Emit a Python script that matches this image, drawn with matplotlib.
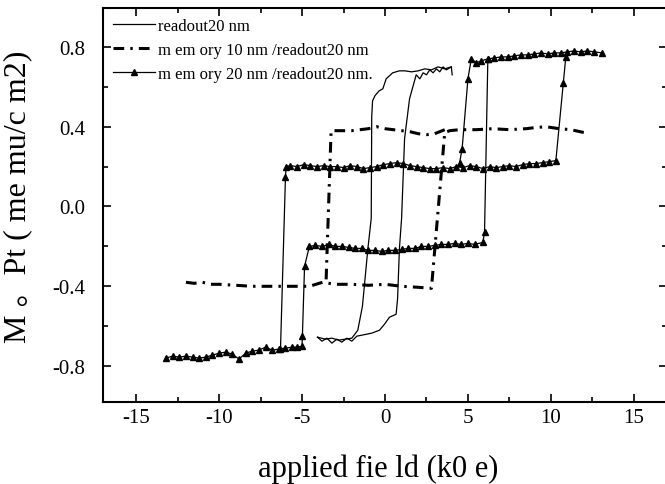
import matplotlib
matplotlib.use('Agg')
import matplotlib.pyplot as plt
from matplotlib.ticker import MultipleLocator

plt.rcParams['font.family'] = ['Liberation Serif', 'Noto Sans CJK SC']
plt.rcParams['axes.unicode_minus'] = False

# readout 20 nm (solid loop)
readout_up_x = [-4.07, -3.8, -3.5, -3.2, -2.9, -2.6, -2.3, -2.0, -1.7, -1.4, -1.1, -0.8,
                -0.33, -0.03, 0.27, 0.67, 0.76, 0.87, 1.0, 1.18, 1.48, 1.88, 2.1, 2.3,
                2.5, 2.7, 2.9, 3.1, 3.3, 3.5, 3.7, 4.0, 4.05]
readout_up_y = [-0.655, -0.675, -0.66, -0.685, -0.665, -0.68, -0.66, -0.675, -0.65, -0.645,
                -0.64, -0.635, -0.62, -0.59, -0.555, -0.54, -0.46, -0.21, -0.06, 0.34, 0.54,
                0.66, 0.64, 0.67, 0.66, 0.685, 0.67, 0.69, 0.675, 0.70, 0.685, 0.70, 0.66]
readout_down_x = [4.0, 3.6, 3.2, 2.8, 2.4, 2.0, 1.6, 1.2, 0.87, 0.46, 0.07, -0.13, -0.35,
                  -0.6, -0.75, -0.8, -0.83, -1.03, -1.36, -1.64, -2.0, -2.4, -2.8, -3.2,
                  -3.6, -4.07]
readout_down_y = [0.70, 0.69, 0.70, 0.685, 0.69, 0.68, 0.675, 0.68, 0.68, 0.67, 0.64, 0.59,
                  0.58, 0.556, 0.53, 0.45, -0.06, -0.21, -0.50, -0.62, -0.66, -0.665, -0.67,
                  -0.66, -0.665, -0.655]

# memory 10 nm / readout 20 nm (dash-dot loop)
mem10_a_x = [-12.0, -11.5, -11.0, -10.5, -10.0, -9.0, -8.0, -7.0, -6.0, -5.0, -4.56, -3.77,
             -3.0, -2.0, -1.0, 0.0, 1.0, 2.0, 2.8, 3.6, 3.9, 4.5, 5.5, 6.5, 7.5, 8.5, 9.0,
             9.7, 10.5, 11.2, 12.04]
mem10_a_y = [-0.38, -0.385, -0.38, -0.39, -0.39, -0.395, -0.40, -0.40, -0.40, -0.40, -0.40,
             -0.38, -0.39, -0.39, -0.395, -0.39, -0.40, -0.405, -0.41, 0.37, 0.38, 0.385,
             0.385, 0.39, 0.385, 0.39, 0.395, 0.40, 0.39, 0.385, 0.37]
mem10_b_x = [3.6, 3.0, 2.5, 2.0, 1.5, 1.0, 0.5, 0.0, -0.5, -1.0, -1.5, -2.0, -2.5, -3.0,
             -3.25, -3.55, -3.77]
mem10_b_y = [0.385, 0.365, 0.36, 0.365, 0.375, 0.38, 0.385, 0.39, 0.40, 0.39, 0.385, 0.38,
             0.38, 0.38, 0.38, -0.37, -0.38]

# memory 20 nm / readout 20 nm (triangles)
mem20_start_x = [4.5, 4.65, 5.0, 5.2, 5.5, 5.8, 6.2]
mem20_start_y = [0.22, 0.29, 0.64, 0.74, 0.72, 0.73, 0.74]
mem20_up_x = [-13.2, -12.8, -12.4, -12.0, -11.6, -11.2, -10.8, -10.4, -10.0, -9.6, -9.2,
              -8.8, -8.4, -8.0, -7.6, -7.2, -6.8, -6.4, -6.0, -5.6, -5.3, -5.0, -4.98,
              -4.85, -4.56, -4.2, -3.8, -3.4, -3.0, -2.6, -2.2, -1.8, -1.4, -1.0, -0.6,
              -0.2, 0.2, 0.6, 1.0, 1.4, 1.8, 2.2, 2.6, 3.0, 3.4, 3.8, 4.2, 4.6, 5.0, 5.4,
              5.9, 6.0, 6.2, 6.6, 7.0, 7.4, 7.8, 8.2, 8.6, 9.0, 9.4, 9.8, 10.2, 10.6, 11.0,
              11.4, 11.8, 12.2, 12.6, 13.1]
mem20_up_y = [-0.76, -0.75, -0.755, -0.75, -0.755, -0.76, -0.755, -0.745, -0.735, -0.73,
              -0.74, -0.765, -0.735, -0.725, -0.72, -0.705, -0.72, -0.715, -0.71, -0.705,
              -0.705, -0.70, -0.65, -0.30, -0.20, -0.195, -0.20, -0.19, -0.20, -0.20,
              -0.205, -0.21, -0.21, -0.22, -0.22, -0.225, -0.22, -0.22, -0.215, -0.21,
              -0.21, -0.20, -0.20, -0.195, -0.19, -0.19, -0.185, -0.19, -0.185, -0.19,
              -0.18, -0.13, 0.74, 0.745, 0.75, 0.75, 0.755, 0.76, 0.76, 0.765, 0.77, 0.765,
              0.77, 0.77, 0.775, 0.78, 0.775, 0.78, 0.775, 0.77]
mem20_down_x = [10.9, 10.75, 10.3, 9.9, 9.5, 9.1, 8.7, 8.3, 7.9, 7.5, 7.1, 6.7, 6.3, 5.9,
                5.5, 5.1, 4.7, 4.3, 3.9, 3.5, 3.1, 2.7, 2.3, 1.9, 1.5, 1.1, 0.7, 0.3, -0.1,
                -0.5, -0.9, -1.3, -1.7, -2.1, -2.5, -2.9, -3.3, -3.7, -4.1, -4.5, -4.9,
                -5.3, -5.7, -5.96, -6.0, -6.3]
mem20_down_y = [0.75, 0.62, 0.23, 0.225, 0.22, 0.215, 0.215, 0.21, 0.20, 0.205, 0.20,
                0.195, 0.20, 0.19, 0.20, 0.205, 0.195, 0.20, 0.19, 0.195, 0.19, 0.19, 0.195,
                0.20, 0.205, 0.215, 0.22, 0.215, 0.21, 0.20, 0.195, 0.19, 0.20, 0.205,
                0.195, 0.20, 0.20, 0.205, 0.20, 0.205, 0.21, 0.20, 0.205, 0.20, 0.15, -0.715]

labels = ['readout20 nm', 'm em ory 10 nm /readout20 nm', 'm em ory 20 nm /readout20 nm.']

fig = plt.figure(figsize=(6.65, 4.85), dpi=100)
ax = fig.add_axes([103 / 665, 82 / 485, 564 / 665, 394 / 485])

dashdot = (0, (3.5, 2, 0.8, 2))
tri = dict(color='black', lw=0.9, marker='^', ms=5, mec='black', mfc='black')

l1, = ax.plot(readout_up_x, readout_up_y, color='black', lw=0.9)
ax.plot(readout_down_x, readout_down_y, color='black', lw=0.9)

l2, = ax.plot(mem10_a_x, mem10_a_y, color='black', lw=2.2, linestyle=dashdot)
ax.plot(mem10_b_x, mem10_b_y, color='black', lw=2.2, linestyle=dashdot)

l3, = ax.plot(mem20_up_x, mem20_up_y, **tri)
ax.plot(mem20_down_x, mem20_down_y, **tri)
ax.plot(mem20_start_x, mem20_start_y, **tri)

ax.legend([l1, l2, l3], labels, loc='upper left', frameon=False, fontsize=12,
          handlelength=2.5, handletextpad=0.2, labelspacing=0.47,
          borderaxespad=0.3, borderpad=0.3, numpoints=1)

ax.set_xlim(-17, 17)
ax.set_ylim(-0.98, 0.995)
ax.xaxis.set_major_locator(MultipleLocator(5))
ax.xaxis.set_minor_locator(MultipleLocator(2.5))
ax.yaxis.set_major_locator(MultipleLocator(0.4))
ax.yaxis.set_minor_locator(MultipleLocator(0.2))
ax.tick_params(which='both', direction='in', top=True, right=True, width=1.2)
ax.tick_params(which='major', length=6)
ax.tick_params(which='minor', length=3.5)
ax.tick_params(axis='x', labelsize=15, pad=4)
ax.tick_params(axis='y', labelsize=15, pad=13)
for sp in ax.spines.values():
    sp.set_linewidth(1.5)

ax.set_xlabel('applied fie ld (k0 e)', fontsize=22)
ax.set_ylabel('M 。Pt ( me mu/c m2)', fontsize=23)
ax.xaxis.set_label_coords(0.488, -0.13)
ax.yaxis.set_label_coords(-0.125, 0.524)

fig.savefig('out.png', dpi=100)
